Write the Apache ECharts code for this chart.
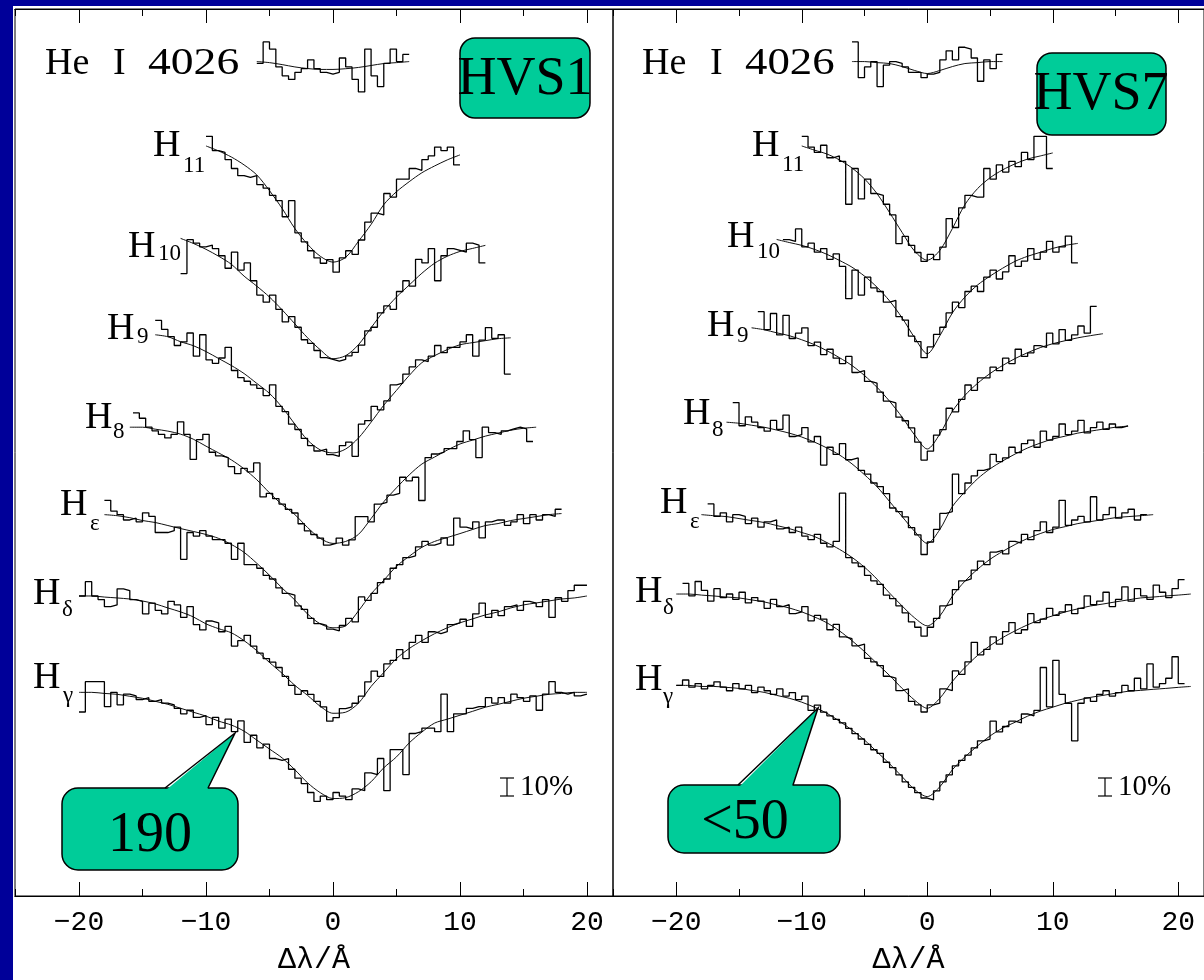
<!DOCTYPE html>
<html>
<head>
<meta charset="utf-8">
<title>HVS1 / HVS7 Balmer line fits</title>
<script src="https://cdn.jsdelivr.net/npm/echarts@6/dist/echarts.min.js"></script>
<style>
  html, body { margin: 0; padding: 0; background: #000099; }
  #chart { width: 1204px; height: 980px; }
</style>
</head>
<body>
<div id="chart"></div>
<script>
// wavelength offset axis (Å)
const majorTicks = [-20, -10, 0, 10, 20];
const minorTicks = [-25, -15, -5, 5, 15];
const binWidth = 0.5;  // Å per observed bin
const fitStep = 1;     // Å between model samples

// line order in both panels: He I 4026, H11, H10, H9, H8, Hε, Hδ, Hγ
// fluxes are in % of continuum, offsets are vertical shifts in continuum units

// ---- HVS1 ----
const hvs1Offsets = [3.667, 3.189, 2.661, 2.139, 1.622, 1.133, 0.678, 0.139];
const hvs1ObsStart = [-6, -10, -12, -14, -15.75, -18, -20, -20];
const hvs1FitStart = [-6, -10, -12, -14, -16, -18, -20, -20];

const hvs1HeObs = [99,111,107,97,92,90,94,96,101,96,94,93,94,102,97,90,83,107,92,86,99,107,100,104];
const hvs1HeFit = [100,99.4,98.3,97,96.1,95.6,95.6,96,96.7,97.8,98.9,99.4,100];
const hvs1H11Obs = [106,98,97,93,88,84,83,84,79,77,73,70,61,70,52,47,42,38,35,37,30,38,42,40,48,58,63,62,74,72,82,82,88,87,93,95,100,98,100,90];
const hvs1H11Fit = [100.6,97.8,94.4,90,84.4,75.6,65.6,54.4,45.6,38.9,35.6,38.3,47.2,56.7,67.8,75,80.6,85.6,89.4,92.8,95.6];
const hvs1H10Obs = [82,101,99,97,98,96,92,85,94,84,88,78,70,66,70,62,55,58,52,45,43,39,35,34,33,34,36,38,42,50,52,60,64,62,72,78,75,90,88,96,78,92,96,95,94,99,98,88];
const hvs1H10Fit = [101.7,98.9,95.6,91.7,87.2,80.6,75,68.9,61.7,53.9,46.1,39.4,34.4,36.1,42.2,51.7,61.1,68.9,75.6,82.2,87.8,91.7,94.4,96.1,97.8];
const hvs1H9Obs = [108,103,99,94,96,101,88,100,86,84,87,93,80,76,74,72,70,66,72,60,57,50,47,42,38,35,36,33,32,38,40,32,50,52,60,58,63,72,73,78,82,86,85,88,94,90,93,93,96,100,88,97,104,98,100,78];
const hvs1H9Fit = [100,98.9,96.1,93.9,90.6,86.7,82.8,78.3,72.8,67.2,59.4,50,41.1,35.6,33.9,36.1,42.2,51.1,60.6,68.9,77.2,84.4,88.3,91.7,94.4,95.6,96.7,97.8,98.3];
const hvs1H8Obs = [108,105,100,98,96,94,96,103,96,82,93,96,86,84,83,78,74,77,75,80,61,63,60,57,54,52,46,42,40,38,34,35,38,34,37,50,50,47,57,58,62,63,72,70,72,59,83,85,86,88,88,92,98,93,83,100,97,96,98,99,100,99,92];
const hvs1H8Fit = [100,100,98.9,97.8,96.1,93.3,89.4,85.6,81.7,76.7,70.6,63.3,56.7,51.1,43.9,37.8,35,36.1,40,48.9,58.3,66.1,73.3,79.4,83.3,87.2,90.6,92.8,95,96.7,98.3,99.4,100];
const hvs1HepsObs = [108,102,100,97,98,96,101,99,90,90,91,93,75,90,88,91,88,86,86,84,75,84,72,72,70,66,64,59,56,55,49,47,42,39,38,36,35,38,42,40,54,52,56,62,64,70,72,76,77,82,85,83,84,87,83,98,93,92,96,87,96,97,97,94,96,100,95,100,97,100,99,103];
const hvs1HepsFit = [100,99.4,98.3,96.7,95.6,93.9,92.2,90.6,88.9,86.7,83.3,78.9,72.8,66.1,58.9,52.2,44.4,38.9,36.7,37.8,46.1,55.6,63.3,71.1,76.7,81.7,85,87.2,89.4,91.7,93.9,95,96.7,97.8,98.9,100,100.6];
const hvs1HdelObs = [100,108,100,98,94,95,104,103,98,97,90,96,92,90,97,95,88,94,84,81,86,85,80,83,72,75,78,72,68,65,63,60,55,50,45,47,45,41,38,30,32,37,38,40,44,52,58,55,62,64,70,65,74,78,74,80,79,80,84,85,87,83,90,96,88,92,89,94,95,92,97,96,94,98,88,99,97,103,106,106];
const hvs1HdelFit = [100,100,99.4,98.9,98.3,97.2,95.6,93.3,91.1,88.3,84.4,81.7,79.4,75,69.4,62.8,56.7,50,44.4,38.3,34.4,35,40,49.4,57.2,65,70.6,75,78.9,82.2,85,87.2,89.4,91.1,93.3,95,96.1,97.2,98.3,98.9,100];
const hvs1HgamObs = [89,106,106,106,92,100,93,99,98,96,97,95,96,94,93,91,88,90,86,87,82,86,80,85,78,84,72,76,69,71,63,62,63,57,52,49,44,39,42,40,44,42,40,46,45,55,54,63,45,68,68,54,77,78,80,80,78,99,78,88,88,91,92,92,97,94,97,94,99,97,95,98,90,99,106,100,99,100,98,99];
const hvs1HgamFit = [100,100,99.4,98.9,97.8,96.7,95,93.3,91.1,88.9,86.7,83.9,81.7,78.3,73.3,68.3,63.3,56.7,49.4,43.9,40.6,41.1,44.4,50,57.8,63.9,71.7,77.8,82.8,85,87.2,89.4,91.7,93.3,95,96.7,97.8,98.9,99.4,100,100];

// ---- HVS7 ----
const hvs7Offsets = [3.667, 3.189, 2.661, 2.178, 1.65, 1.133, 0.689, 0.178];
const hvs7ObsStart = [-6, -10, -11.5, -13.5, -15.5, -17.5, -19.5, -20];
const hvs7FitStart = [-6, -10, -12, -14, -16, -18, -20, -20];

const hvs7HeObs = [111,91,97,100,86,98,100,99,97,94,94,91,93,94,101,106,101,108,107,102,89,101,96,104];
const hvs7HeFit = [100,100,99.4,98.9,97.2,95,93.3,95,97.2,98.9,99.4,100,100];
const hvs7H11Obs = [106,100,97,101,94,95,92,68,88,71,82,74,73,68,62,46,50,45,41,36,40,37,44,60,55,66,73,72,72,88,82,90,86,92,89,97,93,106,106,88];
const hvs7H11Fit = [100.6,98.3,96.1,92.8,88.3,82.2,73.9,63.3,52.2,41.7,36.7,42.2,54.4,67.8,76.7,82.8,87.2,90.6,93.3,95,96.7];
const hvs7H10Obs = [101,100,107,97,99,94,96,90,93,86,68,84,70,80,74,72,66,67,58,56,47,44,35,41,48,52,60,66,63,72,75,72,80,84,79,83,92,86,89,96,90,94,100,94,97,103,88];
const hvs7H10Fit = [101.1,99.4,97.8,95.6,92.8,89.4,85.6,80.6,74.4,66.7,57.2,46.1,37.2,47.2,60,68.9,75.6,80.6,85,88.9,91.7,93.9,96.1,97.8,98.9];
const hvs7H9Obs = [109,99,108,96,107,94,97,100,90,92,85,88,83,80,84,75,76,70,69,64,59,58,50,48,44,36,26,31,40,43,55,53,60,68,65,72,72,78,76,83,80,88,84,86,90,89,97,91,99,93,96,101,97,112];
const hvs7H9Fit = [100,98.9,97.2,95.6,93.3,90.6,87.2,83.3,78.9,73.3,66.7,58.9,50,40,32.2,40.6,53.3,62.2,68.9,74.4,78.9,82.8,86.1,88.9,91.1,92.8,94.4,95.6,96.7];
const hvs7H8Obs = [111,98,103,100,97,95,101,96,104,92,93,97,89,92,76,86,82,88,79,80,73,71,66,64,60,52,50,47,41,37,26,33,40,49,50,71,60,66,70,73,74,82,78,80,86,83,88,90,86,95,90,92,99,93,95,101,94,97,100,96,99,97,98];
const hvs7H8Fit = [100,99.4,98.3,97.2,95.6,93.9,91.7,88.9,85.6,81.7,76.7,70.6,63.9,55.6,47.2,38.9,32.2,40,52.8,61.1,68.3,73.9,78.3,82.2,85.6,88.3,90.6,92.2,93.9,95,96.1,97.2,97.8];
const hvs7HepsObs = [106,99,101,96,100,99,95,98,93,96,97,92,93,90,93,88,86,89,84,82,85,112,76,73,71,66,63,61,55,53,49,45,40,37,32,37,42,49,50,58,63,64,69,74,72,79,80,78,85,84,89,86,91,96,90,93,108,94,97,99,96,110,97,100,104,98,101,103,97,100];
const hvs7HepsFit = [100,99.4,98.9,97.8,96.7,95.6,93.9,92.2,90,87.8,84.4,80.6,76.1,70.6,63.9,56.1,48.9,42.2,37.8,43.3,54.4,62.8,69.4,75,79.4,83.3,86.7,89.4,91.7,93.3,95,96.1,97.2,98.3,98.9,99.4,100];
const hvs7HdelObs = [106,99,107,102,96,103,98,100,97,101,95,98,96,92,97,93,94,89,90,93,85,88,86,80,83,76,75,71,72,64,62,60,54,53,46,47,40,38,34,38,39,47,46,57,55,62,73,66,69,76,72,79,84,78,80,89,84,86,92,88,90,94,89,92,99,94,96,101,93,97,104,96,103,99,97,105,101,98,103,108];
const hvs7HdelFit = [100,100,99.4,98.9,98.3,97.8,96.7,95.6,93.9,92.2,90,87.2,83.9,79.4,73.9,67.8,61.1,54.4,47.2,40.6,36.1,41.7,51.1,58.9,65.6,71.1,75.6,79.4,82.8,85.6,87.8,90,91.7,93.3,94.4,95.6,96.7,97.8,98.3,98.9,99.4,100];
const hvs7HgamObs = [100,103,99,101,98,100,102,99,97,101,98,100,96,99,97,95,98,94,96,92,94,86,89,85,83,81,79,76,73,70,67,64,62,57,54,50,46,43,40,37,36,41,46,50,55,58,61,65,69,70,80,74,77,80,79,84,83,86,110,88,114,95,90,69,90,93,91,95,97,94,96,100,97,104,98,112,99,101,104,116,101];
const hvs7HgamFit = [100,100,99.4,99.4,98.9,98.3,97.2,96.1,94.4,92.8,90.6,87.8,84.4,80,75,69.4,62.8,56.1,48.9,41.7,37.8,43.3,52.8,60,66.1,71.7,76.1,79.4,82.8,85.6,87.8,90,91.7,93.3,94.4,95.6,96.7,97.2,97.8,98.3,98.9,99.4];

const panels = [
  { grid: 0, offsets: hvs1Offsets, obsStart: hvs1ObsStart, fitStart: hvs1FitStart,
    obs: [hvs1HeObs, hvs1H11Obs, hvs1H10Obs, hvs1H9Obs, hvs1H8Obs, hvs1HepsObs, hvs1HdelObs, hvs1HgamObs],
    fit: [hvs1HeFit, hvs1H11Fit, hvs1H10Fit, hvs1H9Fit, hvs1H8Fit, hvs1HepsFit, hvs1HdelFit, hvs1HgamFit] },
  { grid: 1, offsets: hvs7Offsets, obsStart: hvs7ObsStart, fitStart: hvs7FitStart,
    obs: [hvs7HeObs, hvs7H11Obs, hvs7H10Obs, hvs7H9Obs, hvs7H8Obs, hvs7HepsObs, hvs7HdelObs, hvs7HgamObs],
    fit: [hvs7HeFit, hvs7H11Fit, hvs7H10Fit, hvs7H9Fit, hvs7H8Fit, hvs7HepsFit, hvs7HdelFit, hvs7HgamFit] }
];

const series = [];
panels.forEach((p) => {
  p.obs.forEach((vals, k) => {
    const off = p.offsets[k];
    const data = vals.map((v, i) => [p.obsStart[k] + i * binWidth, off + v / 100]);
    data.push([p.obsStart[k] + vals.length * binWidth, off + vals[vals.length - 1] / 100]);
    series.push({
      type: 'line', xAxisIndex: p.grid * 4, yAxisIndex: p.grid, step: 'end',
      symbol: 'none', silent: true, z: 3,
      lineStyle: { color: '#000', width: 1.3 }, data
    });
  });
  p.fit.forEach((vals, k) => {
    const off = p.offsets[k];
    const data = vals.map((v, i) => [p.fitStart[k] + i * fitStep, off + v / 100]);
    series.push({
      type: 'line', xAxisIndex: p.grid * 4, yAxisIndex: p.grid, smooth: 0.3,
      symbol: 'none', silent: true, z: 2,
      lineStyle: { color: '#111', width: 1 }, data
    });
  });
});

const mono = '"Liberation Mono", "Courier New", monospace';
const serif = '"Liberation Serif", "Times New Roman", serif';

function xAxes(gridIndex) {
  const base = {
    type: 'value', gridIndex, min: -25.04, max: 22.05,
    axisLine: { show: true, onZero: false, lineStyle: { color: '#000', width: 1 } },
    splitLine: { show: false }
  };
  const tick = (vals, len) => ({
    show: true, inside: true, length: len, customValues: vals,
    lineStyle: { color: '#000', width: 1 }
  });
  return [
    Object.assign({}, base, {
      position: 'bottom', axisTick: tick(majorTicks, 14),
      axisLabel: {
        customValues: majorTicks, margin: 13, color: '#000',
        fontFamily: mono, fontSize: 28,
        formatter: (v) => String(v).replace('-', '\u2212')
      },
      name: 'Δλ/Å', nameLocation: 'middle', nameGap: 49,
      nameTextStyle: { color: '#000', fontFamily: mono, fontSize: 30 }
    }),
    Object.assign({}, base, { position: 'bottom', axisTick: tick(minorTicks, 7), axisLabel: { show: false } }),
    Object.assign({}, base, { position: 'top', axisTick: tick(majorTicks, 14), axisLabel: { show: false } }),
    Object.assign({}, base, { position: 'top', axisTick: tick(minorTicks, 7), axisLabel: { show: false } })
  ];
}

function yAxis(gridIndex) {
  return { type: 'value', gridIndex, min: 0, max: 4.961, show: false };
}

function text(x, y, str, size, align, extra) {
  return Object.assign({
    type: 'text', x, y, z: 20,
    style: { text: str, fill: '#000', font: size + 'px ' + serif, align: align || 'left', verticalAlign: 'middle' }
  }, extra || {});
}

function lineLabel(hx, hy, sub, sx, sy) {
  return [text(hx, hy, 'H', 38), text(sx, sy, sub, 23)];
}

function scaleBar(x, y) {
  const s = { stroke: '#000', lineWidth: 1.2 };
  return [
    { type: 'line', z: 20, shape: { x1: x, y1: y - 9, x2: x, y2: y + 9 }, style: s },
    { type: 'line', z: 20, shape: { x1: x - 7, y1: y - 9, x2: x + 7, y2: y - 9 }, style: s },
    { type: 'line', z: 20, shape: { x1: x - 7, y1: y + 9, x2: x + 7, y2: y + 9 }, style: s },
    text(x + 13, y, '10%', 29)
  ];
}

const green = '#00cc99';
function box(x, y, w, h, label, tx, ty) {
  return [
    { type: 'rect', z: 15, shape: { x, y, width: w, height: h, r: 15 }, style: { fill: green, stroke: '#000', lineWidth: 1.5 } },
    text(tx, ty, label, 54, 'center')
  ];
}
function callout(x, y, w, h, base1, base2, tip, label, tx, ty) {
  return [
    { type: 'rect', z: 15, shape: { x, y, width: w, height: h, r: 16 }, style: { fill: green, stroke: '#000', lineWidth: 1.5 } },
    { type: 'polygon', z: 16, shape: { points: [[base1 + 1, y + 2], tip, [base2 - 1, y + 2]] }, style: { fill: green } },
    { type: 'polyline', z: 17, shape: { points: [[base1, y], tip, [base2, y]] }, style: { stroke: '#000', lineWidth: 1.5, fill: null } },
    text(tx, ty, label, 56, 'center')
  ];
}

const graphic = [
  { type: 'rect', z: -100, shape: { x: 13, y: 6, width: 1191, height: 974 }, style: { fill: '#fff' } },
  // HVS1 labels
  text(45, 64, 'He', 38), text(113, 64, 'I', 38), text(148, 64, '4026', 38, 'left', { scaleX: 1.2 }),
  ...lineLabel(153, 146, '11', 183, 166),
  ...lineLabel(128, 247, '10', 158, 254),
  ...lineLabel(107, 329, '9', 137, 337),
  ...lineLabel(85, 418, '8', 113, 432),
  ...lineLabel(60, 505, 'ε', 90, 524),
  ...lineLabel(33, 594, 'δ', 62, 610),
  ...lineLabel(33, 678, 'γ', 63, 696),
  ...scaleBar(507, 787),
  // HVS7 labels
  text(642, 64, 'He', 38), text(710, 64, 'I', 38), text(745, 64, '4026', 38, 'left', { scaleX: 1.18 }),
  ...lineLabel(752, 146, '11', 782, 165),
  ...lineLabel(727, 237, '10', 757, 252),
  ...lineLabel(707, 326, '9', 737, 336),
  ...lineLabel(683, 414, '8', 712, 430),
  ...lineLabel(660, 503, 'ε', 690, 522),
  ...lineLabel(635, 592, 'δ', 663, 608),
  ...lineLabel(635, 680, 'γ', 663, 697),
  ...scaleBar(1105, 787),
  // star tags and rotation velocity callouts
  ...box(460, 38, 130, 80, 'HVS1', 525, 80),
  ...box(1037, 53, 129, 82, 'HVS7', 1101, 95),
  ...callout(62, 788, 176, 82, 165, 208, [235, 733], '190', 150, 836),
  ...callout(668, 785, 172, 68, 738, 793, [818, 708], '<50', 745, 823)
];

const chart = echarts.init(document.getElementById('chart'));
chart.setOption({
  animation: false,
  backgroundColor: '#000099',
  grid: [
    { left: 15, top: 9, width: 598, height: 893, show: true, borderColor: '#000', borderWidth: 1, backgroundColor: 'transparent' },
    { left: 613, top: 9, width: 598, height: 893, show: true, borderColor: '#000', borderWidth: 1, backgroundColor: 'transparent' }
  ],
  xAxis: [...xAxes(0), ...xAxes(1)],
  yAxis: [yAxis(0), yAxis(1)],
  graphic,
  series
});
</script>
</body>
</html>
